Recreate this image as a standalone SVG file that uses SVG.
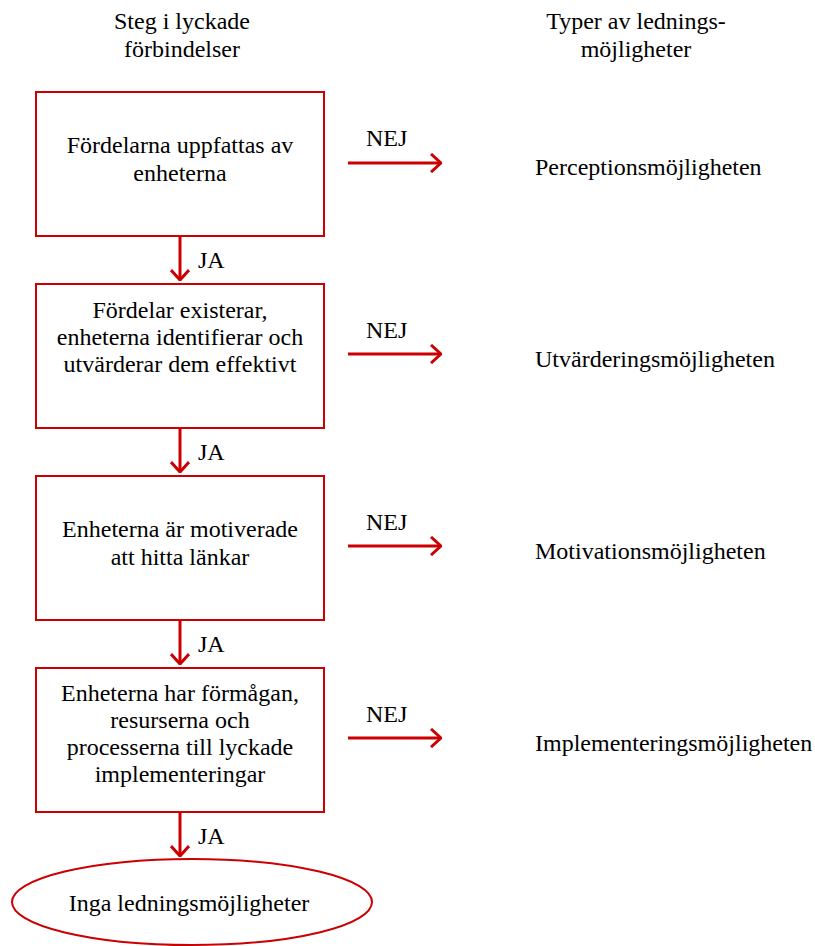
<svg xmlns="http://www.w3.org/2000/svg" width="815" height="946" viewBox="0 0 815 946">
  <defs>
    <style>
      text { font-family: "Liberation Serif", "Times New Roman", serif; font-size: 24px; fill: #000; }
      .c { text-anchor: middle; }
      .box { fill: #fff; stroke: #cc0000; stroke-width: 2; }
      .link { fill: none; stroke: #cc0000; stroke-width: 3; }
    </style>
    <marker id="chev" viewBox="0 0 12 20" refX="11" refY="10" markerWidth="12" markerHeight="20" markerUnits="userSpaceOnUse" orient="auto">
      <path d="M1,1 L11,10 L1,19" fill="none" stroke="#cc0000" stroke-width="3"/>
    </marker>
  </defs>
  <rect width="815" height="946" fill="#fff"/>

  <!-- column headers -->
  <g id="header-steps">
    <text class="c" x="182" y="29">Steg i lyckade</text>
    <text class="c" x="182" y="57">förbindelser</text>
  </g>
  <g id="header-types">
    <text class="c" x="636" y="29">Typer av lednings-</text>
    <text class="c" x="636" y="57">möjligheter</text>
  </g>

  <!-- connectors -->
  <g id="connectors">
    <line class="link" x1="180" y1="236" x2="180" y2="280" marker-end="url(#chev)"/>
    <line class="link" x1="180" y1="428" x2="180" y2="472" marker-end="url(#chev)"/>
    <line class="link" x1="180" y1="620" x2="180" y2="664" marker-end="url(#chev)"/>
    <line class="link" x1="180" y1="812" x2="180" y2="856" marker-end="url(#chev)"/>
    <line class="link" x1="348" y1="163" x2="441" y2="163" marker-end="url(#chev)"/>
    <line class="link" x1="348" y1="354" x2="441" y2="354" marker-end="url(#chev)"/>
    <line class="link" x1="348" y1="546" x2="441" y2="546" marker-end="url(#chev)"/>
    <line class="link" x1="348" y1="738" x2="441" y2="738" marker-end="url(#chev)"/>
    <text x="198" y="268">JA</text>
    <text x="198" y="460">JA</text>
    <text x="198" y="652">JA</text>
    <text x="198" y="844">JA</text>
    <text x="366" y="146">NEJ</text>
    <text x="366" y="338">NEJ</text>
    <text x="366" y="530">NEJ</text>
    <text x="366" y="722">NEJ</text>
  </g>

  <!-- steps -->
  <g id="step1">
    <rect class="box" x="36" y="92" width="288" height="144"/>
    <text class="c" x="180" y="153">Fördelarna uppfattas av</text>
    <text class="c" x="180" y="181">enheterna</text>
  </g>
  <g id="step2">
    <rect class="box" x="36" y="284" width="288" height="144"/>
    <text class="c" x="180" y="318">Fördelar existerar,</text>
    <text class="c" x="180" y="345">enheterna identifierar och</text>
    <text class="c" x="180" y="372">utvärderar dem effektivt</text>
  </g>
  <g id="step3">
    <rect class="box" x="36" y="476" width="288" height="144"/>
    <text class="c" x="180" y="537">Enheterna är motiverade</text>
    <text class="c" x="180" y="565">att hitta länkar</text>
  </g>
  <g id="step4">
    <rect class="box" x="36" y="668" width="288" height="144"/>
    <text class="c" x="180" y="701">Enheterna har förmågan,</text>
    <text class="c" x="180" y="728">resurserna och</text>
    <text class="c" x="180" y="755">processerna till lyckade</text>
    <text class="c" x="180" y="782">implementeringar</text>
  </g>
  <g id="end">
    <ellipse cx="192" cy="902" rx="180" ry="43" fill="#fff" stroke="#cc0000" stroke-width="2"/>
    <text class="c" x="189" y="911">Inga ledningsmöjligheter</text>
  </g>

  <!-- outcome types -->
  <g id="type-perception"><text x="535" y="175">Perceptionsmöjligheten</text></g>
  <g id="type-evaluation"><text x="535" y="367">Utvärderingsmöjligheten</text></g>
  <g id="type-motivation"><text x="535" y="559">Motivationsmöjligheten</text></g>
  <g id="type-implementation"><text x="535" y="751">Implementeringsmöjligheten</text></g>
</svg>
